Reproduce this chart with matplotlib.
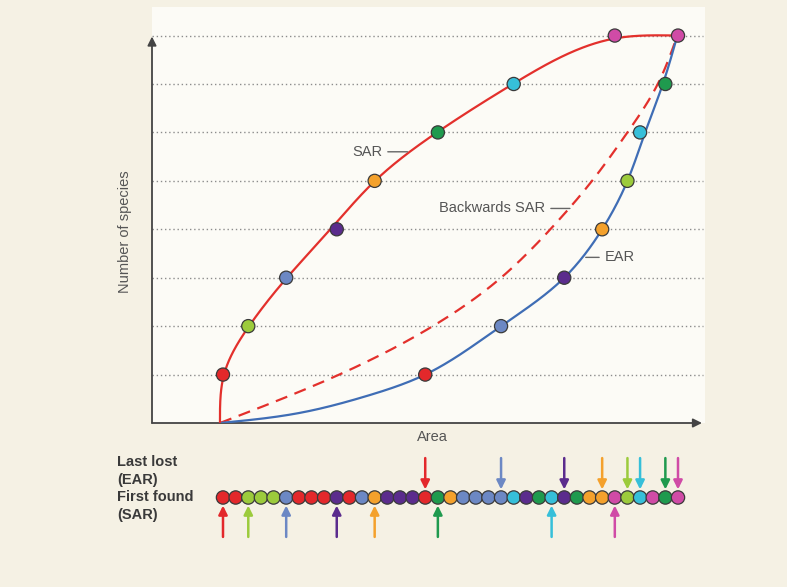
import numpy as np
import matplotlib
matplotlib.use("Agg")
import matplotlib.pyplot as plt
from matplotlib.patches import Rectangle

plt.rcParams['font.family'] = ['Liberation Sans', 'DejaVu Sans']

# species colours (order = order of first discovery)
colors = {
    'red': '#e3282b', 'lime': '#9ccb3c', 'steel': '#6c88c4', 'purple': '#5b2c8d',
    'orange': '#f4a12c', 'green': '#1f9a4e', 'cyan': '#36bfd9', 'magenta': '#d04ba6',
}

# sample strip, left to right (37 samples)
beads = ['red', 'red', 'lime', 'lime', 'lime', 'steel', 'red', 'red', 'red', 'purple',
         'red', 'steel', 'orange', 'purple', 'purple', 'purple', 'red', 'green', 'orange',
         'steel', 'steel', 'steel', 'steel', 'cyan', 'purple', 'green', 'cyan', 'purple',
         'green', 'orange', 'orange', 'magenta', 'lime', 'cyan', 'magenta', 'green', 'magenta']

# SAR: area at which each new species is first found
sar_species = ['red', 'lime', 'steel', 'purple', 'orange', 'green', 'cyan', 'magenta']
sar_area = [1, 3, 6, 10, 13, 18, 24, 32]
sar_count = [1, 2, 3, 4, 5, 6, 7, 8]

# EAR: area at which each species is last lost
ear_species = ['red', 'steel', 'purple', 'orange', 'lime', 'cyan', 'green', 'magenta']
ear_area = [17, 23, 28, 31, 33, 34, 36, 37]
ear_count = [1, 2, 3, 4, 5, 6, 7, 8]

# the drawn curves
sar_curve_area = [0.76, 1.08, 3.06, 6.06, 9.5, 13.03, 17.93, 23.94, 32.0, 36.92]
sar_curve_count = [0, 1, 2, 3, 4, 5, 6, 7, 7.94, 8]
ear_curve_area = [0.76, 7.1, 12.4, 17.0, 23.0, 28.0, 31.0, 33.0, 34.4, 35.8, 36.95]
ear_curve_count = [0, 0.21, 0.56, 1, 2, 3, 4, 5, 6, 7, 8]
back_area = [0.76, 10.2, 17.6, 23.0, 26.9, 30.2, 33.0, 35.4, 36.95]
back_count = [0, 1, 2, 3, 4, 5, 6, 7, 8]

# arrows on the strip as drawn in the figure
first_found_pos = [1, 3, 6, 10, 13, 18, 27, 32]
first_found_col = ['red', 'lime', 'steel', 'purple', 'orange', 'green', 'cyan', 'magenta']
last_lost_pos = ear_area
last_lost_col = ear_species

levels = [1, 2, 3, 4, 5, 6, 7, 8]

W, H = 787, 587
px_per = 455 / 36   # pixels per unit of area
lvl_px = 48.43      # pixels per species


def natural_spline(t, y, ts):
    n = len(t)
    h = np.diff(t)
    A = np.zeros((n, n))
    r = np.zeros(n)
    A[0, 0] = A[-1, -1] = 1
    for i in range(1, n - 1):
        A[i, i - 1] = h[i - 1]
        A[i, i] = 2 * (h[i - 1] + h[i])
        A[i, i + 1] = h[i]
        r[i] = 6 * ((y[i + 1] - y[i]) / h[i] - (y[i] - y[i - 1]) / h[i - 1])
    M = np.linalg.solve(A, r)
    i = np.clip(np.searchsorted(t, ts) - 1, 0, n - 2)
    a = (t[i + 1] - ts) / h[i]
    b = (ts - t[i]) / h[i]
    return a * y[i] + b * y[i + 1] + ((a**3 - a) * M[i] + (b**3 - b) * M[i + 1]) * h[i]**2 / 6


def smooth(xd, yd, n=500):
    """smooth parametric curve through the read points (drawing only)"""
    px = np.asarray(xd, float) * px_per
    py = np.asarray(yd, float) * lvl_px
    t = np.concatenate([[0], np.cumsum(np.hypot(np.diff(px), np.diff(py)))])
    ts = np.linspace(0, t[-1], n)
    return natural_spline(t, px, ts) / px_per, natural_spline(t, py, ts) / lvl_px


BG = '#f5f1e4'
PANEL = '#fcfbf6'
fig = plt.figure(figsize=(W / 100, H / 100), dpi=100, facecolor=BG)

# lighter plot panel
fig.patches.append(Rectangle((152 / W, 1 - 423 / H), (705 - 152) / W, (423 - 7) / H,
                             transform=fig.transFigure, facecolor=PANEL, edgecolor='none', zorder=-5))

x0 = 1 + (152 - 223) / px_per
x1 = 1 + (702 - 223) / px_per

ax = fig.add_axes([152 / W, 1 - 423 / H, (702 - 152) / W, (423 - 28) / H])
ax.set_xlim(x0, x1)
ax.set_ylim(0, (423 - 28) / lvl_px)
ax.set_facecolor('none')
ax.axis('off')

ax.hlines(levels, x0, x1 + 0.1, colors='#8c8c8c', linestyles=(0, (1, 2)), lw=1, zorder=1, clip_on=False)

axis_arrow = dict(arrowstyle='-|>', color='#444444', lw=1.3, mutation_scale=13, shrinkA=0, shrinkB=0)
ax.annotate('', xy=(x0, 7.98), xytext=(x0, 0), arrowprops=axis_arrow, annotation_clip=False)
ax.annotate('', xy=(x1, 0), xytext=(x0, 0), arrowprops=axis_arrow, annotation_clip=False)

bx, by = smooth(back_area, back_count)
ex, ey = smooth(ear_curve_area, ear_curve_count)
sx, sy = smooth(sar_curve_area, sar_curve_count)
ax.plot(bx, by, color='#e3302c', lw=1.6, linestyle=(0, (5.5, 3.5)), zorder=2)
ax.plot(ex, ey, color='#3f6db5', lw=1.6, zorder=3)
ax.plot(sx, sy, color='#e3302c', lw=1.6, zorder=3)

ax.scatter(sar_area, sar_count, s=90, c=[colors[s] for s in sar_species],
           edgecolors='#3a3a3a', linewidths=0.9, zorder=5, clip_on=False)
ax.scatter(ear_area, ear_count, s=90, c=[colors[s] for s in ear_species],
           edgecolors='#3a3a3a', linewidths=0.9, zorder=5, clip_on=False)

lab = dict(fontsize=10.5, color='#555555', va='center',
           arrowprops=dict(arrowstyle='-', color='#666666', lw=1, shrinkA=2, shrinkB=0))
ax.annotate('SAR', xy=(15.6, 5.6), xytext=(13.6, 5.6), ha='right', **lab)
ax.annotate('Backwards SAR', xy=(28.45, 4.43), xytext=(26.5, 4.43), ha='right', **lab)
ax.annotate('EAR', xy=(29.7, 3.42), xytext=(31.2, 3.42), ha='left', **lab)

fig.text(125 / W, 1 - 232 / H, 'Number of species', rotation=90, ha='center', va='center',
         fontsize=10.5, color='#555555')
fig.text(432 / W, 1 - 437 / H, 'Area', ha='center', va='center', fontsize=10.5, color='#555555')

# sample strip
ax2 = fig.add_axes([152 / W, 1 - 545 / H, (702 - 152) / W, 95 / H])
ax2.set_xlim(x0, x1)
ax2.set_ylim(-1, 1)
ax2.axis('off')
ax2.set_facecolor('none')
pos = np.arange(1, len(beads) + 1)
ax2.scatter(pos, np.zeros(len(beads)), s=92, c=[colors[b] for b in beads],
            edgecolors='#3a3a3a', linewidths=0.9, zorder=3)
for p, c in zip(last_lost_pos, last_lost_col):
    ax2.annotate('', xy=(p, 0.17), xytext=(p, 0.83),
                 arrowprops=dict(arrowstyle='-|>', color=colors[c], lw=1.8, mutation_scale=13,
                                 shrinkA=0, shrinkB=0))
for p, c in zip(first_found_pos, first_found_col):
    ax2.annotate('', xy=(p, -0.17), xytext=(p, -0.83),
                 arrowprops=dict(arrowstyle='-|>', color=colors[c], lw=1.8, mutation_scale=13,
                                 shrinkA=0, shrinkB=0))

bold = dict(fontsize=10.5, fontweight='bold', color='#3a3a3a', ha='left', va='center')
fig.text(117 / W, 1 - 462 / H, 'Last lost', **bold)
fig.text(117 / W, 1 - 480 / H, '(EAR)', **bold)
fig.text(117 / W, 1 - 497 / H, 'First found', **bold)
fig.text(117 / W, 1 - 515 / H, '(SAR)', **bold)

fig.savefig('out.png', dpi=100, facecolor=BG)
